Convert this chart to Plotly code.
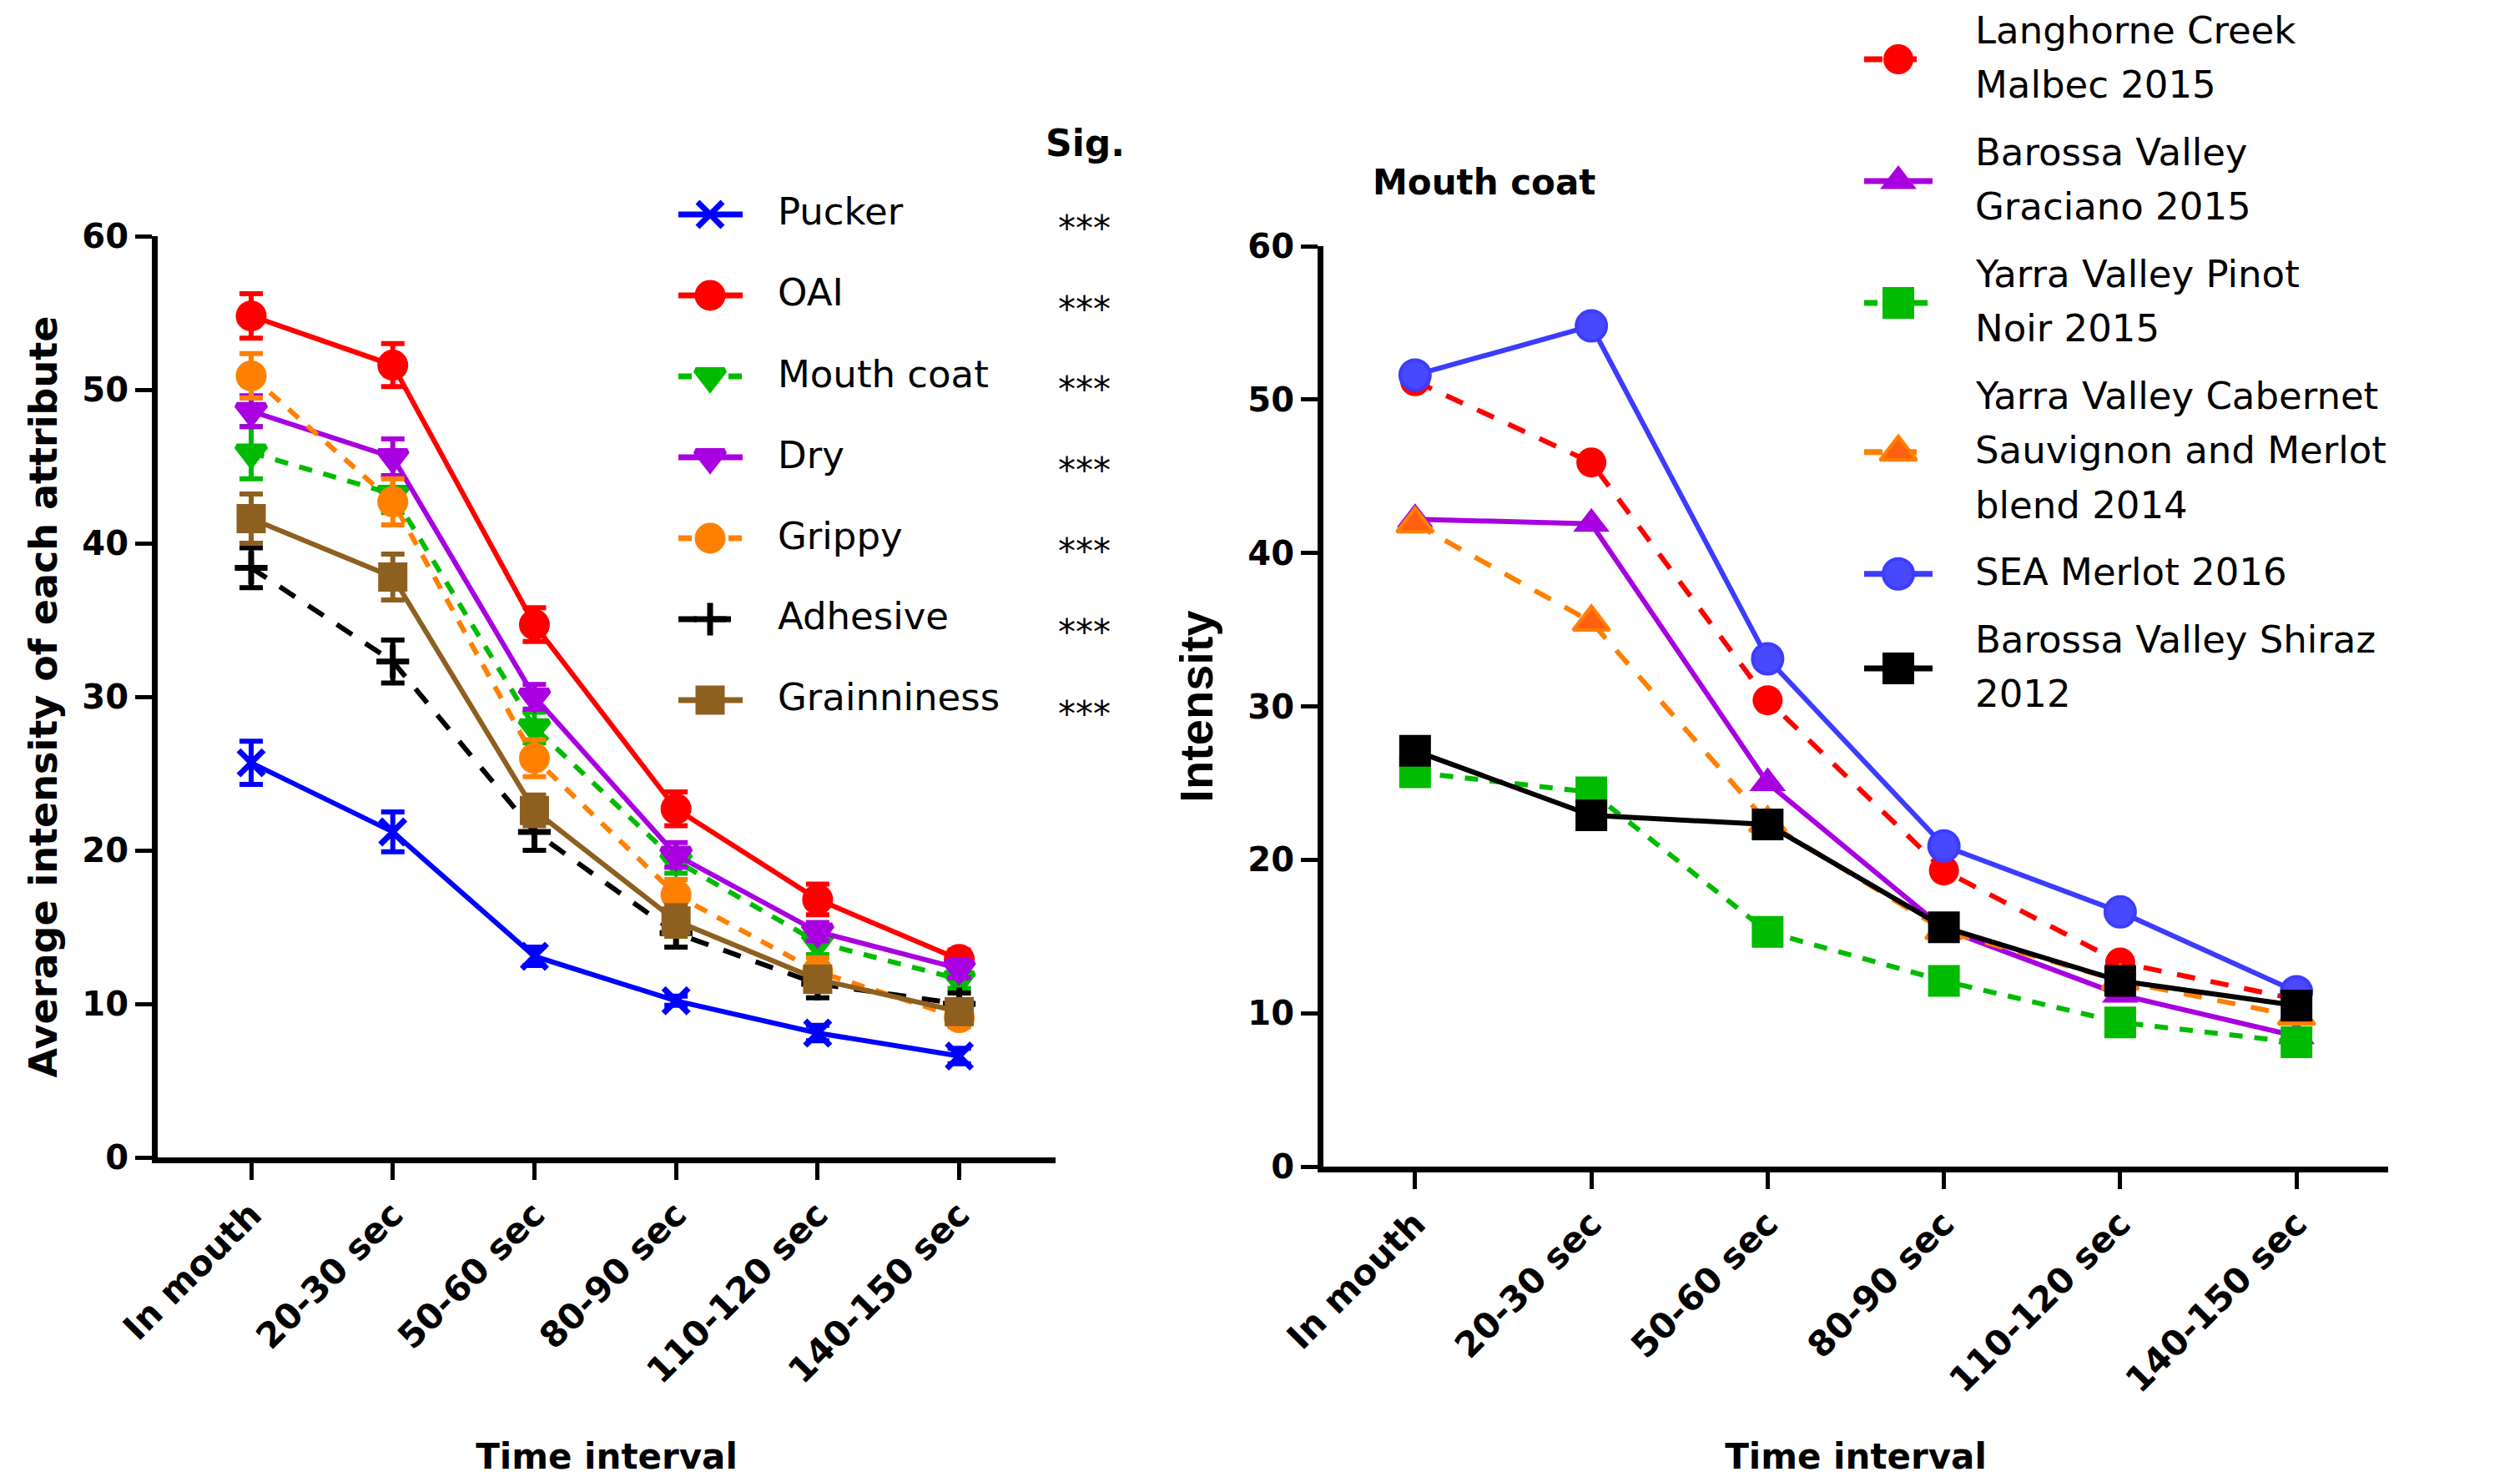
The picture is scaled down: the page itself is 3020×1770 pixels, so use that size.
import plotly.graph_objects as go

# ---------------- data ----------------
time_labels = ["In mouth", "20-30 sec", "50-60 sec", "80-90 sec", "110-120 sec", "140-150 sec"]

# left panel: attribute means and standard errors
attr_names = ["Pucker", "OAI", "Mouth coat", "Dry", "Grippy", "Adhesive", "Grainniness"]
pucker = [25.7, 21.2, 13.1, 10.2, 8.1, 6.6]
oai = [54.8, 51.6, 34.7, 22.7, 16.8, 12.9]
mouth_coat = [45.9, 43.2, 28.0, 19.3, 14.0, 11.6]
dry = [48.6, 45.6, 30.0, 19.7, 14.7, 12.3]
grippy = [50.9, 42.7, 26.0, 17.1, 12.1, 9.1]
adhesive = [38.4, 32.3, 21.2, 14.6, 11.3, 10.0]
grainniness = [41.6, 37.8, 22.6, 15.4, 11.6, 9.5]

pucker_se = [1.4, 1.3, 0.6, 0.3, 0.5, 0.5]
oai_se = [1.45, 1.4, 1.1, 1.1, 1.0, 0.6]
mouth_coat_se = [1.7, 1.2, 1.0, 0.8, 0.8, 0.6]
dry_se = [1.0, 1.2, 0.8, 0.8, 0.6, 0.6]
grippy_se = [1.45, 1.5, 1.2, 1.0, 0.9, 0.6]
adhesive_se = [1.3, 1.4, 1.2, 0.9, 0.9, 0.7]
grainniness_se = [1.6, 1.5, 1.0, 1.0, 0.8, 0.7]
sig_marks = ["***", "***", "***", "***", "***", "***", "***"]

# right panel: mouth coat intensity by wine (legend text wrapped as in the original)
wine_names = [["Langhorne Creek", "Malbec 2015"],
              ["Barossa Valley", "Graciano 2015"],
              ["Yarra Valley Pinot", "Noir 2015"],
              ["Yarra Valley Cabernet", "Sauvignon and Merlot", "blend 2014"],
              ["SEA Merlot 2016"],
              ["Barossa Valley Shiraz", "2012"]]
langhorne = [51.2, 45.9, 30.4, 19.3, 13.3, 10.9]
graciano = [42.2, 41.9, 25.0, 15.5, 11.2, 8.5]
pinot = [25.7, 24.4, 15.3, 12.1, 9.4, 8.1]
cab_merlot = [41.9, 35.5, 22.4, 15.4, 12.1, 9.8]
sea_merlot = [51.6, 54.8, 33.1, 20.9, 16.6, 11.4]
shiraz = [27.1, 22.9, 22.3, 15.6, 12.1, 10.5]

# ---------------- styling ----------------
OFF = 8                      # page body margin
W, H = 3020 - OFF, 1770 - OFF
FAM = "DejaVu Sans"
XTICKFONT = dict(family=FAM, size=42, color="black", weight="bold")
YTICKFONT = dict(family=FAM, size=40, color="black", weight="bold")
LEGFONT = dict(family=FAM, size=45, color="black")

def px_x(p):
    return (p - OFF) / W

def px_y(p):
    return 1 - (p - OFF) / H

DASH_S = "16px,14px"
DASH_L = "22px,19px"

left_series = [
    (attr_names[0], pucker, pucker_se, "#0000FF", "solid", "x-thin-open", 30),
    (attr_names[1], oai, oai_se, "#FF0000", "solid", "circle", 30),
    (attr_names[2], mouth_coat, mouth_coat_se, "#00BB00", DASH_S, "triangle-down", 30),
    (attr_names[3], dry, dry_se, "#A800E0", "solid", "triangle-down", 30),
    (attr_names[4], grippy, grippy_se, "#FF8000", DASH_S, "circle", 30),
    (attr_names[5], adhesive, adhesive_se, "#000000", DASH_L, "cross-thin-open", 28),
    (attr_names[6], grainniness, grainniness_se, "#8E6020", "solid", "square", 28),
]

right_series = [
    (wine_names[0], langhorne, "#FF0000", DASH_L, "circle", 36, "#FF0000", 0),
    (wine_names[1], graciano, "#A800E0", "solid", "triangle-up", 38, "#A800E0", 0),
    (wine_names[2], pinot, "#00BB00", DASH_S, "square", 38, "#00BB00", 0),
    (wine_names[3], cab_merlot, "#FF8000", DASH_L, "triangle-up", 38, "#FF6010", 4),
    (wine_names[4], sea_merlot, "#3C3CFF", "solid", "circle", 36, "#4848FF", 4),
    (wine_names[5], shiraz, "#000000", "solid", "square", 38, "#000000", 0),
]

fig = go.Figure()

for name, vals, se, col, dash, sym, ms in left_series:
    fig.add_trace(go.Scatter(
        x=time_labels, y=vals, name=name, mode="lines+markers",
        line=dict(color=col, width=6, dash=dash),
        marker=dict(symbol=sym, size=ms, color=col, opacity=1, line=dict(color=col, width=7)),
        error_y=dict(type="data", array=se, visible=True, color=col, thickness=6, width=14),
        xaxis="x", yaxis="y", showlegend=False,
    ))

for name, vals, col, dash, sym, ms, fillc, lw in right_series:
    fig.add_trace(go.Scatter(
        x=time_labels, y=vals, name=" ".join(name), mode="lines+markers",
        line=dict(color=col, width=6, dash=dash),
        marker=dict(symbol=sym, size=ms, color=fillc, opacity=1, line=dict(color=col, width=lw)),
        xaxis="x2", yaxis="y2", showlegend=False,
    ))

# ---------------- legends (drawn on a pixel overlay axis) ----------------
annotations = []

# left legend: one row per attribute
L_ROW0, L_STEP = 257, 97
for i, (name, vals, se, col, dash, sym, ms) in enumerate(left_series):
    yc = L_ROW0 + L_STEP * i
    fig.add_trace(go.Scatter(
        x=[813, 851, 890], y=[yc, yc, yc], mode="lines+markers",
        line=dict(color=col, width=7, dash=dash),
        marker=dict(symbol=sym, size=[0, ms, 0], color=col, opacity=1,
                    line=dict(color=col, width=7)),
        xaxis="x3", yaxis="y3", showlegend=False, hoverinfo="skip", cliponaxis=False,
    ))
    annotations.append(dict(x=px_x(930), y=px_y(yc - 3), text=name, xanchor="left",
                            yanchor="middle", font=LEGFONT))
    annotations.append(dict(x=px_x(1299), y=px_y(yc + 16), text=sig_marks[i],
                            xanchor="center", yanchor="middle",
                            font=dict(family=FAM, size=42, color="black")))

# right legend: multi-line entries, one text line per row of the original
LINE_H = 65.5
GAP = 15
yc = 71
prev_half = None
for i, (name, vals, col, dash, sym, ms, fillc, lw) in enumerate(right_series):
    nl = len(name)
    half = nl * LINE_H / 2
    if prev_half is not None:
        yc = yc + prev_half + GAP + half
    prev_half = half
    fig.add_trace(go.Scatter(
        x=[2234, 2275, 2316], y=[yc, yc, yc], mode="lines+markers",
        line=dict(color=col, width=7, dash=dash),
        marker=dict(symbol=sym, size=[0, ms, 0], color=fillc, opacity=1,
                    line=dict(color=col, width=lw)),
        xaxis="x3", yaxis="y3", showlegend=False, hoverinfo="skip", cliponaxis=False,
    ))
    top = yc - half
    for k, line_text in enumerate(name):
        annotations.append(dict(x=px_x(2365), y=px_y(top + LINE_H * (k + 0.5) - 2),
                                text=line_text, xanchor="left", yanchor="middle",
                                font=LEGFONT))

# headers / panel title
annotations.append(dict(x=px_x(1300), y=px_y(171), text="Sig.", xanchor="center",
                        yanchor="middle", font=dict(family=FAM, size=44, weight="bold", color="black")))
annotations.append(dict(x=px_x(1643), y=px_y(218), text="Mouth coat", xanchor="left",
                        yanchor="middle", font=dict(family=FAM, size=42, weight="bold", color="black")))

for a in annotations:
    a.update(xref="paper", yref="paper", showarrow=False)

axis_common = dict(
    showline=True, linewidth=7, linecolor="black", mirror=False,
    ticks="outside", ticklen=20, tickwidth=5, tickcolor="black",
    showgrid=False, zeroline=False, automargin=False,
)

TITLEFONT = dict(family=FAM, size=42, weight="bold", color="black")

fig.update_layout(
    width=W, height=H,
    margin=dict(l=0, r=0, t=0, b=0, autoexpand=False),
    paper_bgcolor="white", plot_bgcolor="rgba(0,0,0,0)",
    showlegend=False,
    xaxis=dict(domain=[px_x(189), px_x(1265)], type="category",
               categoryorder="array", categoryarray=time_labels,
               range=[-0.66, 5.68], tickangle=-45, anchor="y", tickfont=XTICKFONT,
               title=dict(text="Time interval", standoff=70, font=TITLEFONT),
               **axis_common),
    yaxis=dict(domain=[px_y(1387), px_y(283)], range=[0, 60], dtick=10, anchor="x",
               tickfont=YTICKFONT,
               title=dict(text="Average intensity of each attribute", standoff=18,
                          font=dict(family=FAM, size=46, weight="bold", color="black")),
               **axis_common),
    xaxis2=dict(domain=[px_x(1586), px_x(2862)], type="category",
                categoryorder="array", categoryarray=time_labels,
                range=[-0.52, 5.52], tickangle=-45, anchor="y2", tickfont=XTICKFONT,
                title=dict(text="Time interval", standoff=70, font=TITLEFONT),
                **axis_common),
    yaxis2=dict(domain=[px_y(1398), px_y(295)], range=[0, 60], dtick=10, anchor="x2",
                tickfont=YTICKFONT,
                title=dict(text="Intensity", standoff=26,
                           font=dict(family="Liberation Sans", size=56, weight="bold", color="black")),
                **axis_common),
    xaxis3=dict(domain=[0, 1], range=[OFF, OFF + W], visible=False, anchor="y3", fixedrange=True),
    yaxis3=dict(domain=[0, 1], range=[OFF + H, OFF], visible=False, anchor="x3", fixedrange=True),
    annotations=annotations,
)

fig.write_html("out.html")
